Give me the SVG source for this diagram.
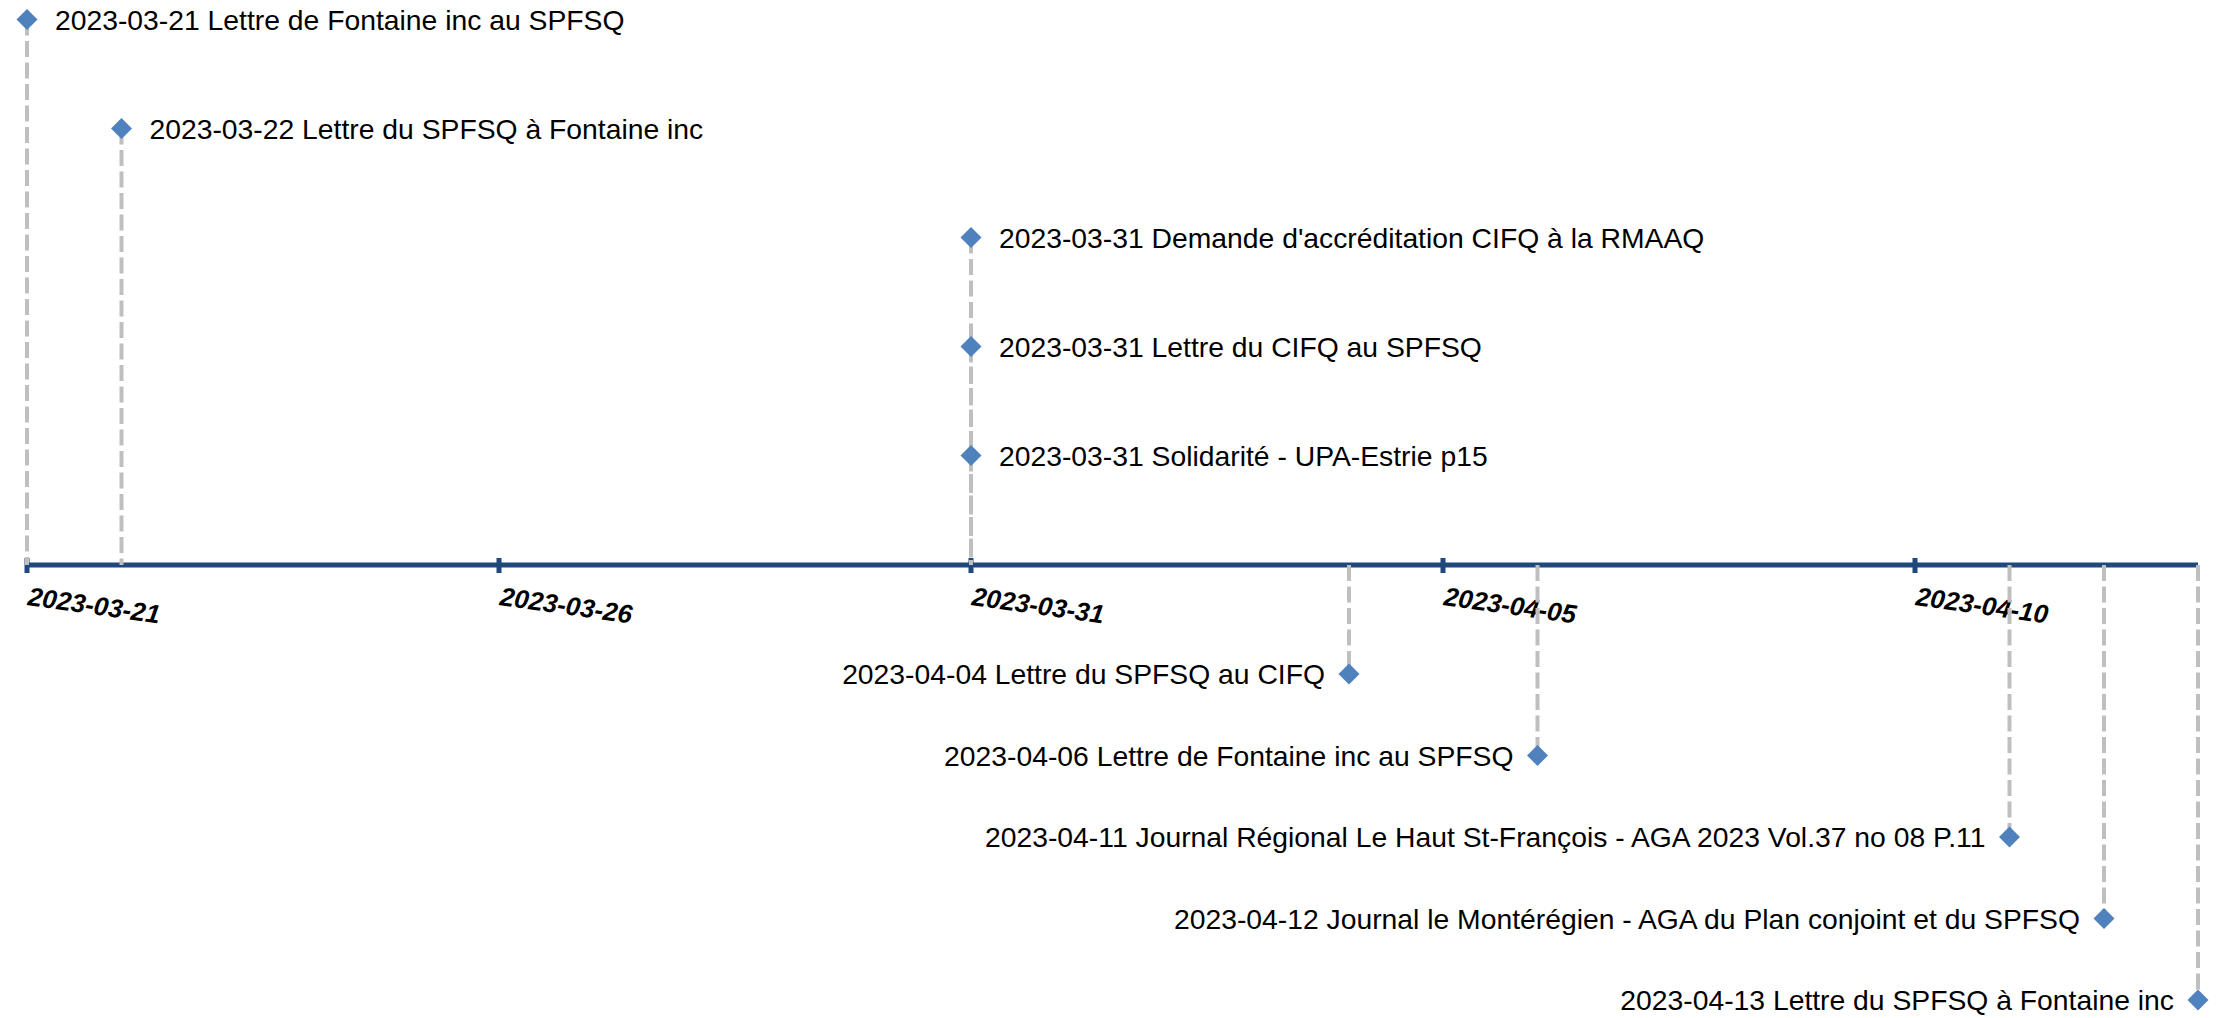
<svg xmlns="http://www.w3.org/2000/svg" width="2218" height="1018" viewBox="0 0 2218 1018">
<defs>
<style>
.axis{stroke:#1F497D;stroke-width:5;fill:none}
.tick{stroke:#1F497D;stroke-width:5}
.alab{font-family:"Liberation Sans",Arial,sans-serif;font-size:26px;font-weight:bold;font-style:italic;fill:#000}
.lbl{font-family:"Liberation Sans",Arial,sans-serif;font-size:28.3px;fill:#000}
.conn{stroke:#BFBFBF;stroke-width:4;stroke-dasharray:16 5.5;fill:none}
.mk{fill:#4F81BD}
</style>
<path id="dia" d="M0,-10.5 L10.5,0 L0,10.5 L-10.5,0 Z"/>
</defs>
<rect width="2218" height="1018" fill="#FFFFFF"/>
<g id="axis">
<line class="axis" x1="25" y1="565" x2="2198" y2="565"/>
<line class="tick" x1="27" y1="558" x2="27" y2="573"/>
<line class="tick" x1="499" y1="558" x2="499" y2="573"/>
<line class="tick" x1="971" y1="558" x2="971" y2="573"/>
<line class="tick" x1="1443" y1="558" x2="1443" y2="573"/>
<line class="tick" x1="1915" y1="558" x2="1915" y2="573"/>
<text class="alab" x="27" y="605" transform="rotate(8 27 605)">2023-03-21</text>
<text class="alab" x="499" y="605" transform="rotate(8 499 605)">2023-03-26</text>
<text class="alab" x="971" y="605" transform="rotate(8 971 605)">2023-03-31</text>
<text class="alab" x="1443" y="605" transform="rotate(8 1443 605)">2023-04-05</text>
<text class="alab" x="1915" y="605" transform="rotate(8 1915 605)">2023-04-10</text>
</g>
<g id="connectors">
<line class="conn" x1="27" y1="19.5" x2="27" y2="565"/>
<line class="conn" x1="121.5" y1="128.5" x2="121.5" y2="565"/>
<line class="conn" x1="971" y1="237.5" x2="971" y2="565"/>
<line class="conn" x1="971" y1="346.5" x2="971" y2="565"/>
<line class="conn" x1="971" y1="455.5" x2="971" y2="565"/>
<line class="conn" x1="1349" y1="565" x2="1349" y2="674"/>
<line class="conn" x1="1537.5" y1="565" x2="1537.5" y2="755.5"/>
<line class="conn" x1="2009.5" y1="565" x2="2009.5" y2="837"/>
<line class="conn" x1="2104" y1="565" x2="2104" y2="918.5"/>
<line class="conn" x1="2198" y1="565" x2="2198" y2="1000"/>
</g>
<g id="e1"><use href="#dia" class="mk" x="27" y="19.5"/><text class="lbl" x="55" y="29.5">2023-03-21 Lettre de Fontaine inc au SPFSQ</text></g>
<g id="e2"><use href="#dia" class="mk" x="121.5" y="128.5"/><text class="lbl" x="149.5" y="138.5">2023-03-22 Lettre du SPFSQ à Fontaine inc</text></g>
<g id="e3"><use href="#dia" class="mk" x="971" y="237.5"/><text class="lbl" x="999" y="247.5">2023-03-31 Demande d'accréditation CIFQ à la RMAAQ</text></g>
<g id="e4"><use href="#dia" class="mk" x="971" y="346.5"/><text class="lbl" x="999" y="356.5">2023-03-31 Lettre du CIFQ au SPFSQ</text></g>
<g id="e5"><use href="#dia" class="mk" x="971" y="455.5"/><text class="lbl" x="999" y="465.5">2023-03-31 Solidarité - UPA-Estrie p15</text></g>
<g id="e6"><use href="#dia" class="mk" x="1349" y="674"/><text class="lbl" x="1325" y="684" text-anchor="end">2023-04-04 Lettre du SPFSQ au CIFQ</text></g>
<g id="e7"><use href="#dia" class="mk" x="1537.5" y="755.5"/><text class="lbl" x="1513.5" y="765.5" text-anchor="end">2023-04-06 Lettre de Fontaine inc au SPFSQ</text></g>
<g id="e8"><use href="#dia" class="mk" x="2009.5" y="837"/><text class="lbl" x="1985.5" y="847" text-anchor="end">2023-04-11 Journal Régional Le Haut St-François - AGA 2023 Vol.37 no 08 P.11</text></g>
<g id="e9"><use href="#dia" class="mk" x="2104" y="918.5"/><text class="lbl" x="2080" y="928.5" text-anchor="end">2023-04-12 Journal le Montérégien - AGA du Plan conjoint et du SPFSQ</text></g>
<g id="e10"><use href="#dia" class="mk" x="2198" y="1000"/><text class="lbl" x="2174" y="1010" text-anchor="end">2023-04-13 Lettre du SPFSQ à Fontaine inc</text></g>
</svg>
